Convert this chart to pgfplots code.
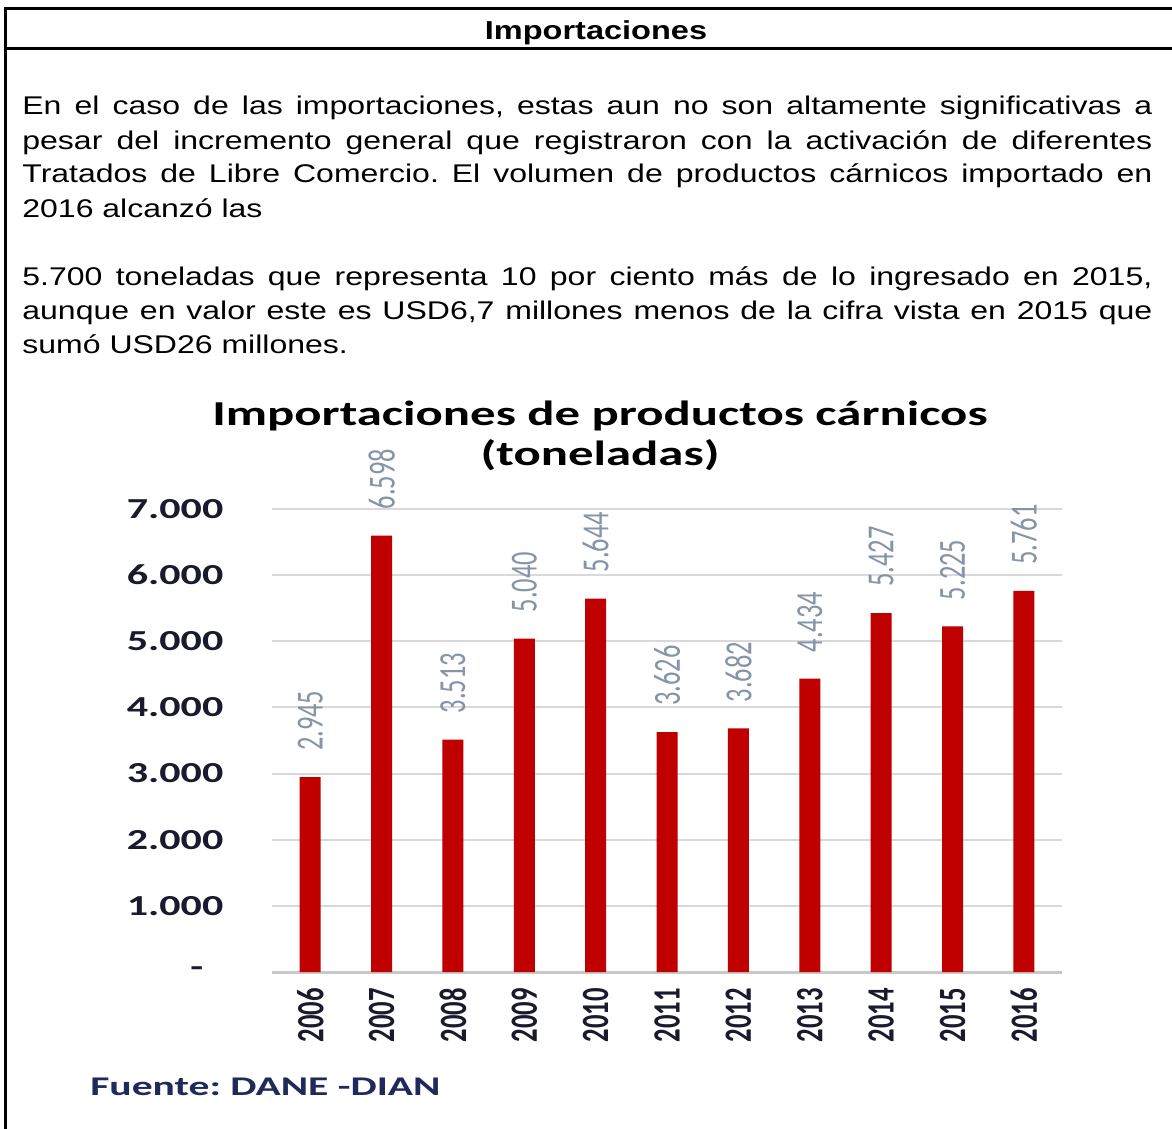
\documentclass[border=0pt]{standalone}
\usepackage{graphicx}
\usepackage{pgfplots}
\pgfplotsset{compat=1.18}
\usepackage{fontspec}
\setmainfont{Liberation Sans}
\newfontfamily\calfont{Carlito}
\definecolor{barred}{HTML}{C00000}
\definecolor{gridgray}{HTML}{D9D9D9}
\definecolor{basegray}{HTML}{C8C8C8}
\definecolor{lblgray}{HTML}{8594A8}
\definecolor{darktxt}{HTML}{1A1A2E}
\definecolor{navytxt}{HTML}{1F2A5A}
\newcommand\hs[1]{\scalebox{1.45}[1]{#1}}
\newcommand\vs[1]{\scalebox{1}[1.45]{#1}}
\newcommand\ps[1]{\scalebox{1.25}[1]{#1}}
\newcommand\pline[1]{\ps{\makebox[452pt][s]{#1}}}
\frenchspacing
\begin{document}
\begin{tikzpicture}
\begin{scope}[x=0.5pt,y=-0.5pt]
\useasboundingbox (0,0) rectangle (1172,1129);
\fill[white] (0,0) rectangle (1172,1129);
\draw[line width=1.5pt] (4,9) -- (1172,9);
\draw[line width=1.5pt] (4,49) -- (1172,49);
\draw[line width=1.5pt] (5,8) -- (5,1129);
\node[anchor=base, inner sep=0pt, font=\bfseries\fontsize{13}{16}\selectfont] at (596,40) {\ps{Importaciones}};
\begin{scope}[every node/.style={anchor=base west, inner sep=0pt, font=\fontsize{12.8}{15}\selectfont}]
\node at (22,115) {\pline{En el caso de las importaciones, estas aun no son altamente significativas a}};
\node at (22,149) {\pline{pesar del incremento general que registraron con la activación de diferentes}};
\node at (22,183) {\pline{Tratados de Libre Comercio. El volumen de productos cárnicos importado en}};
\node at (22,217) {\ps{2016 alcanzó las}};
\node at (22,285) {\pline{5.700 toneladas que representa 10 por ciento más de lo ingresado en 2015,}};
\node at (22,319) {\pline{aunque en valor este es USD6,7 millones menos de la cifra vista en 2015 que}};
\node at (22,353) {\ps{sumó USD26 millones.}};
\end{scope}
\node[anchor=base, inner sep=0pt, font=\calfont\bfseries\fontsize{17.5}{20}\selectfont] at (600,425) {\hs{Importaciones de productos cárnicos}};
\node[anchor=base, inner sep=0pt, font=\calfont\bfseries\fontsize{17.5}{20}\selectfont] at (600,465) {\hs{(toneladas)}};
\node[anchor=base west, inner sep=0pt, text=navytxt, font=\calfont\bfseries\fontsize{13.5}{15}\selectfont] at (90,1095) {\scalebox{1.54}[1]{Fuente: DANE -DIAN}};
\coordinate (O) at (271.7,972);
\end{scope}
\begin{axis}[
  at={(O)}, anchor=south west,
  scale only axis, width=395pt, height=231.5pt,
  xmin=-0.54, xmax=10.53, ymin=0, ymax=7000,
  ybar, bar width=10.5pt,
  axis line style={draw=none}, major tick length=0pt,
  ymajorgrids, grid style={gridgray, line width=1pt},
  xtick={0,...,10},
  xticklabels={\vs{2006},\vs{2007},\vs{2008},\vs{2009},\vs{2010},\vs{2011},\vs{2012},\vs{2013},\vs{2014},\vs{2015},\vs{2016}},
  xticklabel style={yshift=-8pt, rotate=90, anchor=east, inner sep=0pt, text=darktxt, font=\calfont\bfseries\fontsize{13.3}{14}\selectfont},
  ytick={0,1000,...,7000},
  yticklabels={\hs{-}\hspace*{10pt},\hs{1.000},\hs{2.000},\hs{3.000},\hs{4.000},\hs{5.000},\hs{6.000},\hs{7.000}},
  yticklabel style={anchor=east, inner sep=0pt, xshift=-24pt, text=darktxt, font=\calfont\bfseries\fontsize{14.5}{16}\selectfont},
  extra y ticks={0}, extra y tick labels={},
  extra y tick style={grid style={basegray, line width=1.5pt}},
  nodes near coords={\vs{\pgfmathprintnumber{\pgfplotspointmeta}}},
  nodes near coords style={yshift=13pt, rotate=90, anchor=west, inner sep=0pt, text=lblgray, font=\calfont\fontsize{13.2}{14}\selectfont},
  /pgf/number format/1000 sep={.},
  /pgf/number format/assume math mode=true,
]
\addplot[fill=barred, draw=none] coordinates {
(0,2945) (1,6598) (2,3513) (3,5040) (4,5644) (5,3626) (6,3682) (7,4434) (8,5427) (9,5225) (10,5761)
};
\end{axis}
\end{tikzpicture}
\end{document}
